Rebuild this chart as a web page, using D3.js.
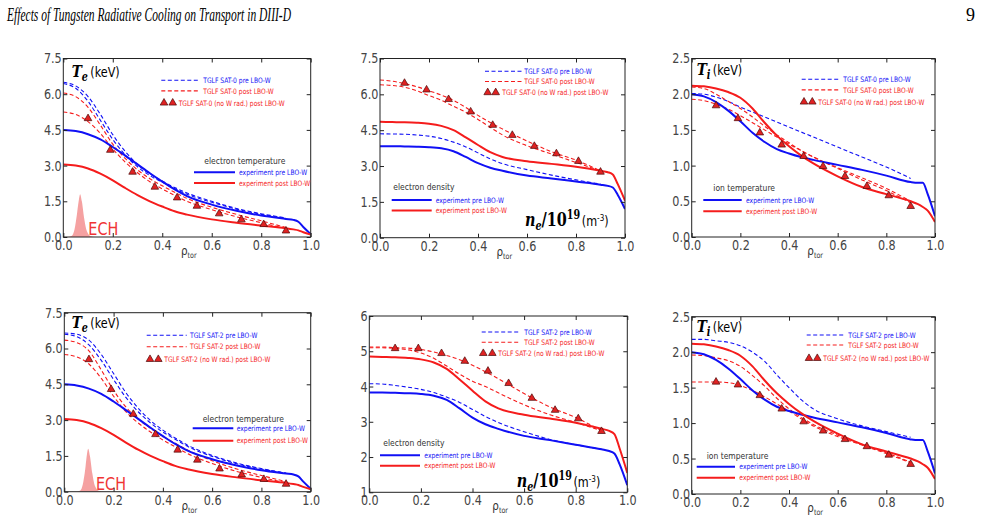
<!DOCTYPE html>
<html>
<head>
<meta charset="utf-8">
<script src="https://cdn.jsdelivr.net/npm/d3@7"></script>
<style>
  body { margin: 0; background: #fff; }
  svg { display: block; }
</style>
</head>
<body>
<svg id="chart"></svg>
<script>
// ---- data ----
const expRho = [0, 0.05, 0.1, 0.15, 0.2, 0.25, 0.3, 0.35, 0.4, 0.45, 0.5, 0.6, 0.7, 0.8, 0.9, 0.93, 0.95, 0.97, 1.0];
const teExpPre = [4.5, 4.45, 4.32, 4.1, 3.78, 3.42, 3.05, 2.68, 2.33, 2.0, 1.72, 1.36, 1.1, 0.9, 0.76, 0.72, 0.64, 0.42, 0.12];
const teExpPost = [3.05, 3.0, 2.88, 2.66, 2.38, 2.06, 1.76, 1.5, 1.28, 1.08, 0.94, 0.74, 0.6, 0.48, 0.37, 0.32, 0.28, 0.2, 0.1];
const neExpPre = [3.83, 3.83, 3.82, 3.81, 3.79, 3.74, 3.62, 3.38, 3.12, 2.93, 2.8, 2.6, 2.48, 2.35, 2.22, 2.17, 2.1, 1.8, 1.2];
const neExpPost = [4.85, 4.84, 4.83, 4.81, 4.77, 4.68, 4.5, 4.2, 3.88, 3.58, 3.38, 3.2, 3.09, 2.97, 2.8, 2.74, 2.65, 2.25, 1.55];
const tiExpPre = [2.0, 1.97, 1.89, 1.77, 1.62, 1.46, 1.33, 1.23, 1.17, 1.12, 1.08, 1.01, 0.94, 0.86, 0.77, 0.76, 0.76, 0.6, 0.29];
const tiExpPost = [2.12, 2.11, 2.08, 2.03, 1.95, 1.8, 1.6, 1.42, 1.27, 1.14, 1.03, 0.85, 0.7, 0.6, 0.5, 0.46, 0.42, 0.37, 0.21];

const tglfRho = [0, 0.05, 0.1, 0.15, 0.2, 0.25, 0.3, 0.35, 0.4, 0.45, 0.5, 0.6, 0.7, 0.8, 0.9];
const te0PreA = [6.5, 6.35, 5.9, 5.15, 4.3, 3.6, 3.05, 2.65, 2.35, 2.08, 1.85, 1.5, 1.2, 0.98, 0.8];
const te0PreB = [6.45, 6.25, 5.7, 4.9, 4.1, 3.45, 2.95, 2.58, 2.3, 2.04, 1.8, 1.46, 1.17, 0.95, 0.78];
const te0PostA = [6.05, 5.9, 5.45, 4.7, 3.9, 3.3, 2.82, 2.45, 2.15, 1.88, 1.62, 1.25, 0.95, 0.68, 0.4];
const te0PostB = [5.25, 5.15, 4.85, 4.35, 3.7, 3.15, 2.7, 2.32, 2.02, 1.75, 1.5, 1.15, 0.85, 0.6, 0.35];
const ne0Pre = [4.35, 4.34, 4.33, 4.3, 4.25, 4.15, 4.0, 3.8, 3.55, 3.3, 3.1, 2.85, 2.62, 2.42, 2.24];
const ne0PostA = [6.6, 6.55, 6.45, 6.32, 6.15, 5.97, 5.75, 5.45, 5.12, 4.82, 4.55, 4.05, 3.6, 3.25, 2.8];
const ne0PostB = [6.4, 6.37, 6.3, 6.15, 5.95, 5.75, 5.5, 5.25, 4.95, 4.62, 4.3, 3.85, 3.5, 3.15, 2.8];
const ti0Pre = [2.01, 2.0, 1.96, 1.9, 1.82, 1.75, 1.68, 1.61, 1.54, 1.47, 1.4, 1.26, 1.12, 0.98, 0.82];
const ti0PostA = [2.1, 2.08, 2.0, 1.9, 1.8, 1.68, 1.55, 1.43, 1.32, 1.21, 1.12, 0.97, 0.83, 0.68, 0.5];
const ti0PostB = [1.93, 1.91, 1.86, 1.79, 1.7, 1.6, 1.5, 1.4, 1.3, 1.21, 1.12, 0.96, 0.8, 0.65, 0.48];
const te2PreA = [6.65, 6.6, 6.35, 5.75, 4.95, 4.15, 3.5, 2.98, 2.58, 2.25, 1.95, 1.52, 1.2, 0.97, 0.78];
const te2PreB = [6.6, 6.5, 6.15, 5.5, 4.7, 3.95, 3.35, 2.88, 2.5, 2.2, 1.9, 1.48, 1.17, 0.95, 0.77];
const te2PostA = [6.35, 6.25, 5.9, 5.1, 4.25, 3.55, 3.05, 2.65, 2.32, 2.03, 1.75, 1.3, 0.95, 0.68, 0.42];
const te2PostB = [5.75, 5.65, 5.35, 4.75, 4.0, 3.35, 2.88, 2.5, 2.17, 1.88, 1.6, 1.18, 0.85, 0.6, 0.37];
const ne2Pre = [4.08, 4.07, 4.03, 3.98, 3.92, 3.83, 3.7, 3.55, 3.35, 3.15, 2.98, 2.72, 2.5, 2.35, 2.22];
const ne2PostA = [5.12, 5.12, 5.1, 5.09, 5.05, 4.98, 4.88, 4.76, 4.6, 4.42, 4.22, 3.8, 3.42, 3.12, 2.75];
const ne2PostB = [5.1, 5.1, 5.08, 5.04, 4.95, 4.8, 4.58, 4.35, 4.15, 4.0, 3.82, 3.48, 3.2, 2.98, 2.75];
const ti2Pre = [2.18, 2.18, 2.16, 2.14, 2.09, 2.0, 1.87, 1.68, 1.5, 1.33, 1.2, 1.06, 0.96, 0.88, 0.8];
const ti2PostA = [1.96, 1.95, 1.92, 1.88, 1.8, 1.67, 1.52, 1.35, 1.2, 1.08, 0.98, 0.83, 0.7, 0.58, 0.45];
const ti2PostB = [1.58, 1.58, 1.58, 1.57, 1.53, 1.46, 1.37, 1.27, 1.17, 1.06, 0.96, 0.81, 0.69, 0.57, 0.44];

// no W radiation runs (triangles)
const triRho = [0.1, 0.19, 0.28, 0.37, 0.46, 0.54, 0.63, 0.72, 0.81, 0.9];
const te0NoW = [4.98, 3.65, 2.73, 2.1, 1.65, 1.3, 0.98, 0.73, 0.53, 0.26];
const ne0NoW = [6.47, 6.19, 5.79, 5.27, 4.71, 4.29, 3.83, 3.52, 3.2, 2.75];
const ti0NoW = [1.84, 1.66, 1.46, 1.29, 1.13, 0.99, 0.85, 0.71, 0.58, 0.43];
const te2NoW = [5.54, 4.29, 3.25, 2.4, 1.75, 1.33, 0.96, 0.71, 0.52, 0.32];
const ne2NoW = [5.08, 5.08, 4.94, 4.72, 4.44, 4.09, 3.67, 3.33, 3.09, 2.73];
const ti2NoW = [1.58, 1.54, 1.39, 1.2, 1.02, 0.89, 0.77, 0.67, 0.55, 0.42];

// ECH deposition
const echRho0 = [0.02, 0.035, 0.045, 0.055, 0.062, 0.068, 0.075, 0.085, 0.095, 0.11, 0.13];
const echRho2 = [0.05, 0.065, 0.075, 0.085, 0.091, 0.097, 0.104, 0.114, 0.124, 0.14, 0.16];
const echVal = [0, 0.05, 0.3, 0.95, 1.5, 1.8, 1.5, 0.75, 0.25, 0.04, 0];

const xTicks = [0, 0.2, 0.4, 0.6, 0.8, 1.0];
const teTicks = [0, 1.5, 3.0, 4.5, 6.0, 7.5];
const tiTicks = [0, 0.5, 1.0, 1.5, 2.0, 2.5];
const ne2Ticks = [1, 2, 3, 4, 5, 6];

// ---- drawing ----
const width = 983, height = 525;
const svg = d3.select("#chart").attr("width", width).attr("height", height);
const blue = "#1010f5", red = "#f51c1c";
const sx = 0.8; // the original figure is squeezed horizontally

function txt(g, x, y, size, color) {
  return g.append("text")
    .attr("transform", `translate(${x},${y}) scale(${sx},1)`)
    .style("font-family", "DejaVu Sans, sans-serif")
    .style("font-size", size + "px")
    .attr("fill", color);
}

svg.append("text").attr("x", 7).attr("y", 21)
  .attr("textLength", 284).attr("lengthAdjust", "spacingAndGlyphs")
  .style("font-family", "Liberation Serif, serif").style("font-style", "italic")
  .style("font-size", "18px").text("Effects of Tungsten Radiative Cooling on Transport in DIII-D");
svg.append("text").attr("x", 966).attr("y", 21)
  .style("font-family", "Liberation Serif, serif").style("font-size", "18px").text("9");

const panels = [
  { box: [63.3, 58.5, 310.7, 237], yd: [0, 7.5], yt: teTicks, fmt: ".1f", sat: "SAT-0", kind: "te",
    dashed: [[te0PreA, blue], [te0PreB, blue], [te0PostA, red], [te0PostB, red]],
    pre: teExpPre, post: teExpPost, noW: te0NoW, ech: echRho0, echText: [25, -1.7],
    title: [8.4, 18.4], top: { l: [98, 135], t: 140, rows: [21.7, 32.4, 44.4], tri: [100.7, 109.4], tt: 115.4 },
    bot: { label: "electron temperature", lab: [141, 105], l: [130.7, 171.7], t: 175.7, rows: [113.7, 124.4] } },
  { box: [380, 58.5, 625, 237.7], yd: [0, 7.5], yt: teTicks, fmt: ".1f", sat: "SAT-0", kind: "ne",
    dashed: [[ne0Pre, blue], [ne0PostA, red], [ne0PostB, red]],
    pre: neExpPre, post: neExpPost, noW: ne0NoW,
    title: [145, 167.4], top: { l: [105, 141.7], t: 144.3, rows: [12.7, 23, 34], tri: [107.7, 115.7], tt: 122.3 },
    bot: { label: "electron density", lab: [13.3, 131.5], l: [11.7, 51.7], t: 55.7, rows: [141.4, 152] } },
  { box: [691.7, 58.5, 935, 237], yd: [0, 2.5], yt: tiTicks, fmt: ".1f", sat: "SAT-0", kind: "ti",
    dashed: [[ti0Pre, blue], [ti0PostA, red], [ti0PostB, red]],
    pre: tiExpPre, post: tiExpPost, noW: ti0NoW,
    title: [5, 16.7], top: { l: [110, 148.3], t: 151.6, rows: [20.7, 31.4, 43.4], tri: [112.3, 120.6], tt: 126.6 },
    bot: { label: "ion temperature", lab: [21.6, 132.5], l: [11.6, 50], t: 54.3, rows: [141.4, 152.7] } },
  { box: [64.3, 312.7, 310.7, 491.7], yd: [0, 7.5], yt: teTicks, fmt: ".1f", sat: "SAT-2", kind: "te",
    dashed: [[te2PreA, blue], [te2PreB, blue], [te2PostA, red], [te2PostB, red]],
    pre: teExpPre, post: teExpPost, noW: te2NoW, ech: echRho2, echText: [31.7, -1.7],
    title: [7.4, 15.6], top: { l: [82.4, 122.4], t: 125.7, rows: [22.6, 34, 46.6], tri: [85.7, 94], tt: 100 },
    bot: { label: "electron temperature", lab: [138.4, 109], l: [128.4, 169], t: 172.4, rows: [115.6, 128] } },
  { box: [369.3, 316, 627.3, 492.3], yd: [1, 6], yt: ne2Ticks, fmt: "d", sat: "SAT-2", kind: "ne",
    dashed: [[ne2Pre, blue], [ne2PostA, red], [ne2PostB, red]],
    pre: neExpPre, post: neExpPost, noW: ne2NoW,
    title: [147.4, 171], top: { l: [112.4, 150.7], t: 155, rows: [16, 26.3, 37.3], tri: [114, 123], tt: 129 },
    bot: { label: "electron density", lab: [14, 129.8], l: [10.7, 50.7], t: 55, rows: [139.3, 149.7] } },
  { box: [691.7, 316.7, 935, 494], yd: [0, 2.5], yt: tiTicks, fmt: ".1f", sat: "SAT-2", kind: "ti",
    dashed: [[ti2Pre, blue], [ti2PostA, red], [ti2PostB, red]],
    pre: tiExpPre, post: tiExpPost, noW: ti2NoW,
    title: [5, 15], top: { l: [115, 153.3], t: 156.6, rows: [18.3, 28.3, 41.6], tri: [117.3, 125.6], tt: 131.6 },
    bot: { label: "ion temperature", lab: [15, 141.8], l: [5, 43.3], t: 47.6, rows: [150, 161] } }
];

const tri = d3.symbol(d3.symbolTriangle, 25);

panels.forEach((p, i) => {
  const [x0, y0, x1, y1] = p.box;
  const x = d3.scaleLinear().domain([0, 1]).range([x0, x1]);
  const y = d3.scaleLinear().domain(p.yd).range([y1, y0]);
  const g = svg.append("g");

  g.append("clipPath").attr("id", "clip" + i)
    .append("rect").attr("x", x0).attr("y", y0).attr("width", x1 - x0).attr("height", y1 - y0);
  const plot = g.append("g").attr("clip-path", `url(#clip${i})`);

  const line = (rho) => d3.line().x((d, k) => x(rho[k])).y(d => y(d)).curve(d3.curveMonotoneX);

  if (p.ech) {
    const rho = p.ech;
    plot.append("path").datum(echVal)
      .attr("d", d3.area().x((d, k) => x(rho[k])).y0(y(0)).y1(d => y(d)).curve(d3.curveMonotoneX))
      .attr("fill", "#f28a8a").attr("fill-opacity", 0.8);
    txt(g, x0 + p.echText[0], y1 + p.echText[1], 18, "#f03434").text("ECH");
  }

  p.dashed.forEach(([vals, col]) => {
    plot.append("path").datum(vals).attr("d", line(tglfRho))
      .attr("fill", "none").attr("stroke", col).attr("stroke-width", 1.1)
      .attr("stroke-dasharray", "4,2.5");
  });
  [[p.pre, blue], [p.post, red]].forEach(([vals, col]) => {
    plot.append("path").datum(vals).attr("d", line(expRho))
      .attr("fill", "none").attr("stroke", col).attr("stroke-width", 2);
  });
  plot.selectAll(".tri").data(p.noW).enter().append("path")
    .attr("d", tri)
    .attr("transform", (d, k) => `translate(${x(triRho[k])},${y(d)})`)
    .attr("fill", "#e02222").attr("stroke", "#4a0a0a").attr("stroke-width", 0.7);

  // axes with inward ticks on all sides
  const fmt = d3.format(p.fmt);
  const ax = [
    [d3.axisBottom(x).tickValues(xTicks).tickFormat(d3.format(".1f")).tickSizeInner(-4).tickSizeOuter(0).tickPadding(3), `translate(0,${y1})`],
    [d3.axisLeft(y).tickValues(p.yt).tickFormat(fmt).tickSizeInner(-4).tickSizeOuter(0).tickPadding(2), `translate(${x0},0)`],
    [d3.axisTop(x).tickValues(xTicks).tickFormat("").tickSizeInner(-4).tickSizeOuter(0), `translate(0,${y0})`],
    [d3.axisRight(y).tickValues(p.yt).tickFormat("").tickSizeInner(-4).tickSizeOuter(0), `translate(${x1},0)`]
  ];
  ax.forEach(([a, tr]) => {
    const ga = g.append("g").attr("transform", tr).call(a);
    ga.select(".domain").remove();
    ga.selectAll("line").attr("stroke", "#222");
    ga.selectAll("text").attr("transform", `scale(${sx},1)`)
      .style("font-family", "DejaVu Sans, sans-serif").style("font-size", "14px").attr("fill", "#444");
  });
  g.append("rect").attr("x", x0).attr("y", y0).attr("width", x1 - x0).attr("height", y1 - y0)
    .attr("fill", "none").attr("stroke", "#222").attr("stroke-width", 1);

  // x label
  const xl = txt(g, (x0 + x1) / 2 - 6, y1 + 18, 13, "#333");
  xl.append("tspan").text("ρ");
  xl.append("tspan").attr("dy", 3).style("font-size", "8px").text("tor");

  // title
  const serif = "DejaVu Serif, serif";
  if (p.kind === "ne") {
    const t = txt(g, x0 + p.title[0], y0 + p.title[1], 18, "#000");
    t.append("tspan").style("font-family", serif).style("font-weight", "bold").style("font-style", "italic").text("n");
    t.append("tspan").attr("dy", 4).style("font-family", serif).style("font-weight", "bold").style("font-style", "italic").style("font-size", "12px").text("e");
    t.append("tspan").attr("dy", -4).style("font-family", serif).style("font-weight", "bold").text("/10");
    t.append("tspan").attr("dy", -7).style("font-family", serif).style("font-weight", "bold").style("font-size", "12px").text("19");
    t.append("tspan").attr("dy", 7).attr("dx", 2).style("font-size", "14px").text("(m");
    t.append("tspan").attr("dy", -5).style("font-size", "9px").text("-3");
    t.append("tspan").attr("dy", 5).style("font-size", "14px").text(")");
  } else {
    const t = txt(g, x0 + p.title[0], y0 + p.title[1], 17, "#000");
    t.append("tspan").style("font-family", serif).style("font-weight", "bold").style("font-style", "italic").text("T");
    t.append("tspan").attr("dy", 4).style("font-family", serif).style("font-weight", "bold").style("font-style", "italic").style("font-size", "12px").text(p.kind === "te" ? "e" : "i");
    t.append("tspan").attr("dy", -4).attr("dx", 3).style("font-size", "14px").text("(keV)");
  }

  // upper legend: TGLF runs
  const L = p.top;
  const names = [`TGLF ${p.sat} pre LBO-W`, `TGLF ${p.sat} post LBO-W`, `TGLF ${p.sat} (no W rad.) post LBO-W`];
  [blue, red].forEach((col, k) => {
    g.append("line").attr("x1", x0 + L.l[0]).attr("x2", x0 + L.l[1])
      .attr("y1", y0 + L.rows[k]).attr("y2", y0 + L.rows[k])
      .attr("stroke", col).attr("stroke-width", 1.1).attr("stroke-dasharray", "4,2.5");
    txt(g, x0 + L.t, y0 + L.rows[k] + 2.7, 7.5, col).text(names[k]);
  });
  L.tri.forEach(tx => {
    g.append("path").attr("d", tri).attr("transform", `translate(${x0 + tx},${y0 + L.rows[2]})`)
      .attr("fill", "#e02222").attr("stroke", "#4a0a0a").attr("stroke-width", 0.7);
  });
  txt(g, x0 + L.tt, y0 + L.rows[2] + 2.7, 7.5, red).text(names[2]);

  // lower legend: experiment
  const B = p.bot;
  txt(g, x0 + B.lab[0], y0 + B.lab[1], 9.5, "#333").text(B.label);
  [[blue, "experiment pre LBO-W"], [red, "experiment post LBO-W"]].forEach(([col, name], k) => {
    g.append("line").attr("x1", x0 + B.l[0]).attr("x2", x0 + B.l[1])
      .attr("y1", y0 + B.rows[k]).attr("y2", y0 + B.rows[k])
      .attr("stroke", col).attr("stroke-width", 2);
    txt(g, x0 + B.t, y0 + B.rows[k] + 2.7, 7.5, col).text(name);
  });
});
</script>
</body>
</html>
